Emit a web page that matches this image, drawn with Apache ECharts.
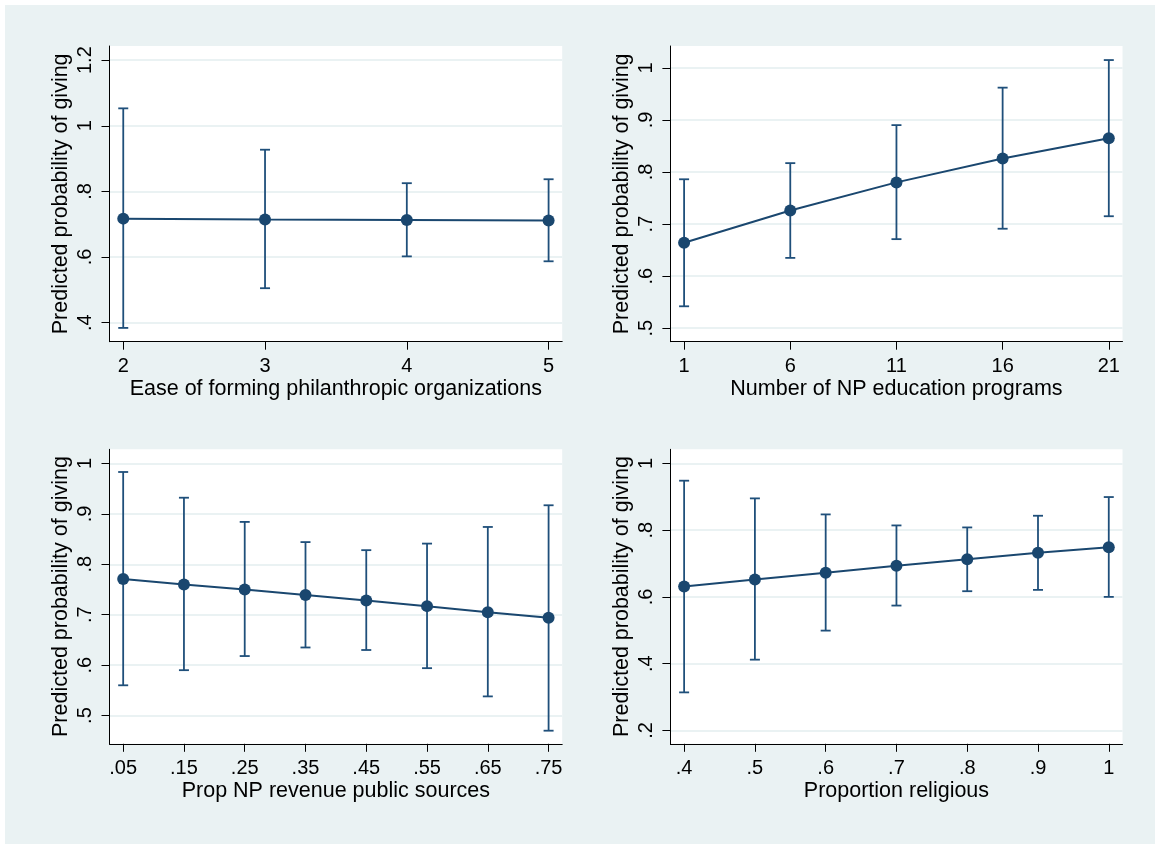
<!DOCTYPE html>
<html>
<head>
<meta charset="utf-8">
<script src="https://cdn.jsdelivr.net/npm/echarts@6/dist/echarts.min.js"></script>
<style>
html,body{margin:0;padding:0;background:#ffffff;}
#chart{width:1155px;height:844px;}
</style>
</head>
<body>
<div id="chart"></div>
<script>
// ---- Data ----
const yTitle = 'Predicted probability of giving';

// Panel 1
const p1Title = 'Ease of forming philanthropic organizations';
const p1X  = [2, 3, 4, 5];
const p1Y  = [0.717, 0.714, 0.713, 0.711];
const p1Lo = [0.384, 0.505, 0.602, 0.587];
const p1Hi = [1.053, 0.927, 0.825, 0.837];
const p1XTicks = [2, 3, 4, 5];
const p1XLabels = ['2', '3', '4', '5'];
const p1YTicks = [0.4, 0.6, 0.8, 1.0, 1.2];
const p1YLabels = ['.4', '.6', '.8', '1', '1.2'];

// Panel 2
const p2Title = 'Number of NP education programs';
const p2X  = [1, 6, 11, 16, 21];
const p2Y  = [0.664, 0.726, 0.780, 0.826, 0.865];
const p2Lo = [0.542, 0.635, 0.671, 0.691, 0.715];
const p2Hi = [0.786, 0.817, 0.890, 0.962, 1.015];
const p2XTicks = [1, 6, 11, 16, 21];
const p2XLabels = ['1', '6', '11', '16', '21'];
const p2YTicks = [0.5, 0.6, 0.7, 0.8, 0.9, 1.0];
const p2YLabels = ['.5', '.6', '.7', '.8', '.9', '1'];

// Panel 3
const p3Title = 'Prop NP revenue public sources';
const p3X  = [0.05, 0.15, 0.25, 0.35, 0.45, 0.55, 0.65, 0.75];
const p3Y  = [0.771, 0.760, 0.750, 0.739, 0.728, 0.717, 0.705, 0.694];
const p3Lo = [0.560, 0.590, 0.618, 0.635, 0.630, 0.594, 0.538, 0.470];
const p3Hi = [0.983, 0.932, 0.884, 0.844, 0.828, 0.841, 0.874, 0.917];
const p3XTicks = [0.05, 0.15, 0.25, 0.35, 0.45, 0.55, 0.65, 0.75];
const p3XLabels = ['.05', '.15', '.25', '.35', '.45', '.55', '.65', '.75'];
const p3YTicks = [0.5, 0.6, 0.7, 0.8, 0.9, 1.0];
const p3YLabels = ['.5', '.6', '.7', '.8', '.9', '1'];

// Panel 4
const p4Title = 'Proportion religious';
const p4X  = [0.4, 0.5, 0.6, 0.7, 0.8, 0.9, 1.0];
const p4Y  = [0.631, 0.652, 0.672, 0.693, 0.713, 0.732, 0.749];
const p4Lo = [0.314, 0.412, 0.499, 0.574, 0.617, 0.621, 0.600];
const p4Hi = [0.948, 0.895, 0.847, 0.814, 0.808, 0.843, 0.899];
const p4XTicks = [0.4, 0.5, 0.6, 0.7, 0.8, 0.9, 1.0];
const p4XLabels = ['.4', '.5', '.6', '.7', '.8', '.9', '1'];
const p4YTicks = [0.2, 0.4, 0.6, 0.8, 1.0];
const p4YLabels = ['.2', '.4', '.6', '.8', '1'];

// ---- Style ----
const NAVY = '#1a476f';
const BAR = '#1f4f7a';
const BG = '#eaf2f3';
const FONT = '"Liberation Sans", Arial, sans-serif';
const TITLE_SIZE = 21.5;
const TICK_SIZE = 20;

const panels = [
  {x:p1X, y:p1Y, lo:p1Lo, hi:p1Hi, xt:p1XTicks, xl:p1XLabels, yt:p1YTicks, yl:p1YLabels, title:p1Title,
   grid:{left:109.5, top:46, width:452.7, height:295.7}, xr:[1.903, 5.096], yr:[0.342, 1.243]},
  {x:p2X, y:p2Y, lo:p2Lo, hi:p2Hi, xt:p2XTicks, xl:p2XLabels, yt:p2YTicks, yl:p2YLabels, title:p2Title,
   grid:{left:670.4, top:46, width:452.1, height:295.7}, xr:[0.355, 21.645], yr:[0.474, 1.042]},
  {x:p3X, y:p3Y, lo:p3Lo, hi:p3Hi, xt:p3XTicks, xl:p3XLabels, yt:p3YTicks, yl:p3YLabels, title:p3Title,
   grid:{left:109.5, top:449.3, width:452.7, height:294.5}, xr:[0.0275, 0.7724], yr:[0.444, 1.028]},
  {x:p4X, y:p4Y, lo:p4Lo, hi:p4Hi, xt:p4XTicks, xl:p4XLabels, yt:p4YTicks, yl:p4YLabels, title:p4Title,
   grid:{left:670.4, top:449.3, width:452.1, height:294.5}, xr:[0.3806, 1.0194], yr:[0.160, 1.042]}
];

function labelFmt(vals, labels) {
  return function (v) {
    const i = vals.findIndex(t => Math.abs(t - v) < 1e-9);
    return i >= 0 ? labels[i] : '';
  };
}

const grids = [], xAxes = [], yAxes = [], series = [];
panels.forEach((p, i) => {
  grids.push(Object.assign({show:true, backgroundColor:'#ffffff', borderWidth:0, containLabel:false}, p.grid));
  xAxes.push({
    type:'value', gridIndex:i, min:p.xr[0], max:p.xr[1],
    name:p.title, nameLocation:'middle', nameGap:35,
    nameTextStyle:{color:'#000', fontSize:TITLE_SIZE, fontFamily:FONT},
    axisLine:{show:true, onZero:false, lineStyle:{color:'#000', width:1}},
    axisTick:{show:true, length:8, customValues:p.xt, lineStyle:{color:'#000', width:1}},
    axisLabel:{show:true, customValues:p.xt, formatter:labelFmt(p.xt, p.xl), color:'#000', fontSize:TICK_SIZE, fontFamily:FONT, margin:15},
    splitLine:{show:false}
  });
  yAxes.push({
    type:'value', gridIndex:i, min:p.yr[0], max:p.yr[1],
    name:yTitle, nameLocation:'middle', nameGap:37, nameRotate:90,
    nameTextStyle:{color:'#000', fontSize:TITLE_SIZE, fontFamily:FONT},
    axisLine:{show:true, onZero:false, lineStyle:{color:'#000', width:1}},
    axisTick:{show:true, length:8, customValues:p.yt, lineStyle:{color:'#000', width:1}},
    axisLabel:{show:true, rotate:90, customValues:p.yt, formatter:labelFmt(p.yt, p.yl), color:'#000', fontSize:TICK_SIZE, fontFamily:FONT, margin:14},
    splitLine:{show:true, lineStyle:{color:BG, width:2}}
  });
  const barData = p.x.map((xv, k) => [xv, p.lo[k], p.hi[k]]);
  series.push({
    type:'custom', xAxisIndex:i, yAxisIndex:i, data:barData, z:2,
    renderItem: function (params, api) {
      const xv = api.value(0);
      const a = api.coord([xv, api.value(1)]);
      const b = api.coord([xv, api.value(2)]);
      const hw = 5;
      const st = {stroke:BAR, lineWidth:1.8, fill:null};
      return {type:'group', children:[
        {type:'line', shape:{x1:a[0], y1:a[1], x2:b[0], y2:b[1]}, style:st},
        {type:'line', shape:{x1:a[0]-hw, y1:a[1], x2:a[0]+hw, y2:a[1]}, style:st},
        {type:'line', shape:{x1:b[0]-hw, y1:b[1], x2:b[0]+hw, y2:b[1]}, style:st}
      ]};
    }
  });
  series.push({
    type:'line', xAxisIndex:i, yAxisIndex:i, z:3,
    data:p.x.map((xv, k) => [xv, p.y[k]]),
    symbol:'circle', symbolSize:12, showSymbol:true,
    lineStyle:{color:NAVY, width:2},
    itemStyle:{color:NAVY, borderWidth:0},
    animation:false
  });
});

const chart = echarts.init(document.getElementById('chart'), null, {renderer:'canvas'});
chart.setOption({
  animation:false,
  backgroundColor:'#ffffff',
  graphic:[{type:'rect', z:-10, shape:{x:5, y:5, width:1150, height:839}, style:{fill:BG}}],
  grid:grids, xAxis:xAxes, yAxis:yAxes, series:series
});
</script>
</body>
</html>
